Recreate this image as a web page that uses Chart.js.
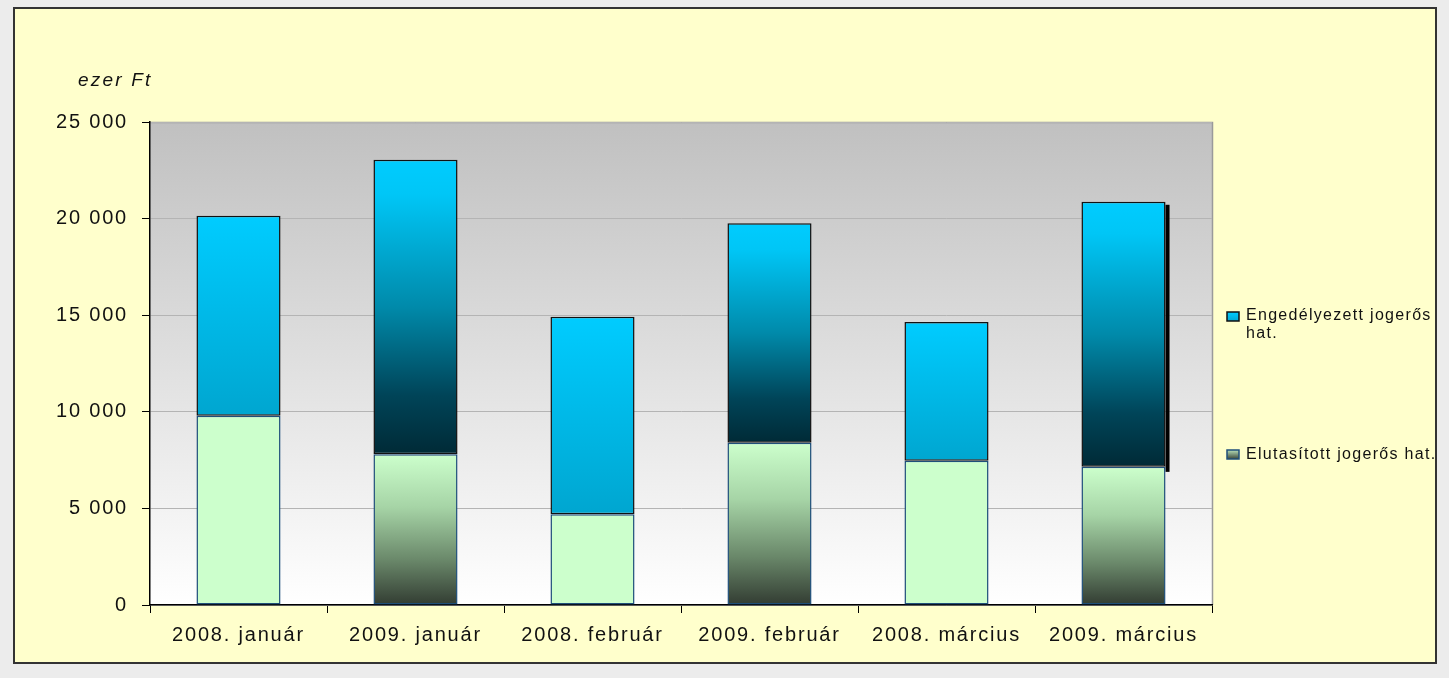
<!DOCTYPE html>
<html>
<head>
<meta charset="utf-8">
<script src="https://cdn.jsdelivr.net/npm/chart.js@4/dist/chart.umd.min.js"></script>
<style>
  html, body { margin: 0; padding: 0; }
  body { width: 1449px; height: 678px; background: #ececec; position: relative; overflow: hidden; }
  #panel {
    position: absolute; left: 13px; top: 7px; width: 1424px; height: 657px;
    box-sizing: border-box; border: 2px solid #333; background: #ffffcc;
  }
  #chart { display: block; }
</style>
</head>
<body>
<div id="panel"><canvas id="chart" width="1420" height="653"></canvas></div>
<script>
const categories = ['2008. január', '2009. január', '2008. február', '2009. február', '2008. március', '2009. március'];
const elutasitott = [9800, 7800, 4700, 8400, 7470, 7150];
const engedelyezett = [10350, 15250, 10220, 11360, 7180, 13720];
const yTicks = [0, 5000, 10000, 15000, 20000, 25000];
const unitLabel = 'ezer Ft';
const legendTop = ['Engedélyezett jogerős', 'hat.'];
const legendBottom = 'Elutasított jogerős hat.';
// the last bar has a drop shadow in the original
const shadowIndex = 5;

const fmt = v => String(v).replace(/\B(?=(\d{3})+(?!\d))/g, ' ');
const is2009 = i => categories[i].startsWith('2009');

// gradient spanning one bar segment
function segGradient(ctx, from, to, stops) {
  const chart = ctx.chart;
  const y = chart.scales.y;
  if (!chart.chartArea || !y) return stops[0][1];
  const g = chart.ctx.createLinearGradient(0, y.getPixelForValue(to), 0, y.getPixelForValue(from));
  stops.forEach(s => g.addColorStop(s[0], s[1]));
  return g;
}

const plotBg = {
  id: 'plotBg',
  beforeDraw(chart) {
    const { ctx, chartArea: a } = chart;
    ctx.letterSpacing = '1.8px';
    ctx.save();
    const g = ctx.createLinearGradient(0, a.top, 0, a.bottom);
    g.addColorStop(0, '#c0c0c0');
    g.addColorStop(1, '#ffffff');
    ctx.fillStyle = g;
    ctx.fillRect(a.left, a.top, a.right - a.left, a.bottom - a.top);
    ctx.strokeStyle = '#9a9a9a';
    ctx.lineWidth = 1.5;
    ctx.beginPath();
    ctx.moveTo(a.left, a.top + 0.5);
    ctx.lineTo(a.right + 0.5, a.top + 0.5);
    ctx.lineTo(a.right + 0.5, a.bottom);
    ctx.stroke();
    ctx.restore();
  },
  beforeDatasetsDraw(chart) {
    const bar = chart.getDatasetMeta(1).data[shadowIndex];
    if (!bar) return;
    const { x, y, base, width } = bar.getProps(['x', 'y', 'base', 'width'], true);
    const ctx = chart.ctx;
    ctx.save();
    ctx.fillStyle = '#000';
    ctx.fillRect(x + width / 2, y + 3, 4, base - y + 2);
    ctx.restore();
  },
  afterDraw(chart) {
    const { ctx } = chart;
    ctx.save();
    ctx.fillStyle = '#111';
    ctx.textBaseline = 'alphabetic';
    ctx.textAlign = 'left';
    ctx.letterSpacing = '2.2px';
    ctx.font = 'italic 19px "Liberation Sans", Arial, sans-serif';
    ctx.fillText(unitLabel, 63, 77);

    // legend
    const lx = 1212;
    ctx.lineWidth = 1.5;
    let g = ctx.createLinearGradient(0, 303, 0, 312);
    g.addColorStop(0, '#00ccff'); g.addColorStop(1, '#00a8d4');
    ctx.fillStyle = g;
    ctx.fillRect(lx, 303, 12, 9);
    ctx.strokeStyle = '#111';
    ctx.strokeRect(lx, 303, 12, 9);
    g = ctx.createLinearGradient(0, 441, 0, 450);
    g.addColorStop(0, '#b8e0b8'); g.addColorStop(1, '#3a463a');
    ctx.fillStyle = g;
    ctx.fillRect(lx, 441, 12, 9);
    ctx.strokeStyle = '#1f4f7a';
    ctx.strokeRect(lx, 441, 12, 9);

    ctx.fillStyle = '#111';
    ctx.letterSpacing = '1.3px';
    ctx.font = '16px "Liberation Sans", Arial, sans-serif';
    ctx.textBaseline = 'middle';
    ctx.fillText(legendTop[0], 1231, 307);
    ctx.fillText(legendTop[1], 1231, 325);
    ctx.fillText(legendBottom, 1231, 446);
    ctx.restore();
  }
};

const tickFont = { family: '"Liberation Sans", Arial, sans-serif', size: 20 };

new Chart(document.getElementById('chart'), {
  type: 'bar',
  data: {
    labels: categories,
    datasets: [
      {
        label: 'Elutasított jogerős hat.',
        data: elutasitott,
        backgroundColor: c => {
          if (c.dataIndex === undefined) return '#ccffcc';
          if (!is2009(c.dataIndex)) return '#ccffcc';
          return segGradient(c, 0, elutasitott[c.dataIndex],
            [[0, '#ccffcc'], [0.35, '#a6d4a6'], [0.7, '#6a886a'], [1, '#323c32']]);
        },
        borderColor: '#1f4f7a',
        borderWidth: 1.5,
        borderSkipped: false
      },
      {
        label: 'Engedélyezett jogerős hat.',
        data: engedelyezett,
        backgroundColor: c => {
          if (c.dataIndex === undefined) return '#00ccff';
          const i = c.dataIndex;
          const from = elutasitott[i], to = elutasitott[i] + engedelyezett[i];
          if (!is2009(i)) {
            return segGradient(c, from, to, [[0, '#00ccff'], [1, '#00a6d0']]);
          }
          return segGradient(c, from, to,
            [[0, '#00ccff'], [0.12, '#00c6f6'], [0.5, '#008aaa'], [0.8, '#004458'], [1, '#002a36']]);
        },
        borderColor: '#111',
        borderWidth: 1.5,
        borderSkipped: false
      }
    ]
  },
  options: {
    responsive: false,
    animation: false,
    layout: { padding: { top: 113, right: 223, left: 0, bottom: 0 } },
    plugins: { legend: { display: false }, tooltip: { enabled: false } },
    datasets: { bar: { barPercentage: 0.475, categoryPercentage: 1 } },
    scales: {
      x: {
        stacked: true,
        afterFit: s => { s.height = 57; },
        grid: { display: true, drawOnChartArea: false, offset: true, tickLength: 8, tickColor: '#000', lineWidth: 1 },
        border: { color: '#000', width: 1.5 },
        ticks: { color: '#111', font: tickFont, padding: 10, maxRotation: 0 }
      },
      y: {
        stacked: true,
        min: 0,
        max: 25000,
        afterFit: s => { s.width = 135; },
        afterBuildTicks: s => { s.ticks = yTicks.map(v => ({ value: v })); },
        grid: { color: '#b4b4b4', tickColor: '#000', tickLength: 8, lineWidth: 1 },
        border: { color: '#000', width: 1.5 },
        ticks: { color: '#111', font: tickFont, padding: 14, callback: v => fmt(v) }
      }
    }
  },
  plugins: [plotBg]
});
</script>
</body>
</html>
